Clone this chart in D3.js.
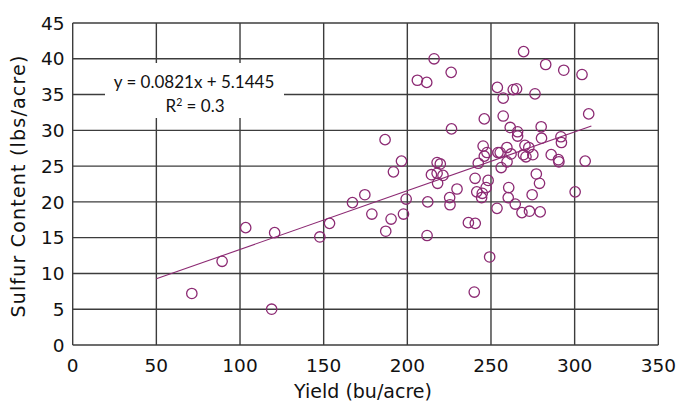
<!DOCTYPE html>
<html><head><meta charset="utf-8">
<script src="https://cdn.jsdelivr.net/npm/d3@7"></script>
<style>body{margin:0;background:#fff}text{font-family:"DejaVu Sans",sans-serif;fill:#111}</style>
</head><body><svg id="c" width="681" height="404"></svg>
<script>
const yieldVals = [71.2,89.3,103.4,120.7,118.9,147.7,153.5,167.2,174.6,178.8,187.1,190.3,197.7,199.3,212.2,211.8,218.1,225.3,225.5,229.7,236.5,240.6,240.0,249.2,300.3,279.4,273.0,268.5,253.6,264.5,260.3,260.6,274.6,279.0,244.4,244.8,241.5,247.1,248.3,240.5,217.8,219.7,214.4,217.8,221.3,245.3,247.6,246.0,242.4,254.2,255.5,259.5,262.0,259.6,256.1,270.3,272.6,275.0,269.4,270.9,286.0,290.3,290.6,306.3,277.1,269.5,282.7,293.5,304.4,253.8,257.3,263.3,265.3,276.3,246.0,257.3,308.4,261.5,265.9,265.9,280.0,280.2,291.8,292.1,216.0,206.0,211.6,226.2,226.4,186.7,196.5,191.7];
const sulfurVals = [7.2,11.7,16.4,15.7,5.0,15.1,17.0,19.9,21.0,18.3,15.9,17.6,18.3,20.4,20.0,15.3,22.6,20.6,19.6,21.8,17.1,17.0,7.4,12.3,21.4,18.6,18.7,18.5,19.1,19.7,20.6,22.0,21.0,22.6,20.6,21.2,21.4,22.0,23.0,23.3,25.5,25.3,23.8,24.0,23.7,27.8,26.9,26.4,25.4,26.9,26.9,27.6,26.7,25.6,24.8,27.9,27.6,26.6,26.6,26.3,26.6,25.9,25.6,25.7,23.9,41.0,39.2,38.4,37.8,36.0,34.5,35.7,35.8,35.1,31.6,32.0,32.3,30.4,29.8,29.2,30.5,28.9,29.1,28.3,40.0,37.0,36.7,38.1,30.2,28.7,25.7,24.2];
const xTicks = [0,50,100,150,200,250,300,350];
const yTicks = [0,5,10,15,20,25,30,35,40,45];
const slope = 0.0821, intercept = 5.1445;
const trendRange = [50,310];
const eqText = "y = 0.0821x + 5.1445";
const r2Text = "0.3";

const svg = d3.select("#c");
const x = d3.scaleLinear().domain([0,350]).range([72.7,658.3]);
const y = d3.scaleLinear().domain([0,45]).range([345,23]);
const col = "#8c2a73", grid = "#3c3c3c";

const g = svg.append("g");
g.selectAll("line.v").data(xTicks).join("line")
  .attr("x1",d=>x(d)).attr("x2",d=>x(d)).attr("y1",y(0)).attr("y2",y(45))
  .attr("stroke",grid).attr("stroke-width",1.4);
g.selectAll("line.h").data(yTicks).join("line")
  .attr("y1",d=>y(d)).attr("y2",d=>y(d)).attr("x1",x(0)).attr("x2",x(350))
  .attr("stroke",grid).attr("stroke-width",1.4);

// equation box
svg.append("rect").attr("x",105).attr("y",63).attr("width",179).attr("height",55).attr("fill","#fff");
svg.append("text").attr("x",194).attr("y",88).attr("text-anchor","middle")
  .style("font-family","Lato,sans-serif").attr("font-size",17).text(eqText);
const r = svg.append("text").attr("x",195).attr("y",111.5).attr("text-anchor","middle")
  .style("font-family","Lato,sans-serif").attr("font-size",17);
r.append("tspan").text("R");
r.append("tspan").attr("dy",-6).attr("font-size",10.5).text("2");
r.append("tspan").attr("dy",6).text(" = " + r2Text);

// trend line
svg.append("line").attr("x1",x(trendRange[0])).attr("y1",y(slope*trendRange[0]+intercept))
  .attr("x2",x(trendRange[1])).attr("y2",y(slope*trendRange[1]+intercept))
  .attr("stroke",col).attr("stroke-width",1.1);

svg.selectAll("circle").data(yieldVals.map((v,i)=>[v,sulfurVals[i]])).join("circle")
  .attr("cx",d=>x(d[0])).attr("cy",d=>y(d[1])).attr("r",5.2)
  .attr("fill","none").attr("stroke",col).attr("stroke-width",1.3);

svg.selectAll("text.xt").data(xTicks).join("text").attr("class","xt")
  .attr("x",d=>x(d)).attr("y",371.5).attr("text-anchor","middle").attr("font-size",18.5).text(d=>d);
svg.selectAll("text.yt").data(yTicks).join("text").attr("class","yt")
  .attr("x",64.5).attr("y",d=>y(d)+6.7).attr("text-anchor","end").attr("font-size",18.5).text(d=>d);

svg.append("text").attr("x",363).attr("y",398).attr("text-anchor","middle").attr("font-size",19).text("Yield (bu/acre)");
svg.append("text").attr("transform","translate(25,186) rotate(-90)").attr("text-anchor","middle")
  .attr("font-size",19).attr("letter-spacing",1.2).text("Sulfur Content (lbs/acre)");
</script></body></html>
